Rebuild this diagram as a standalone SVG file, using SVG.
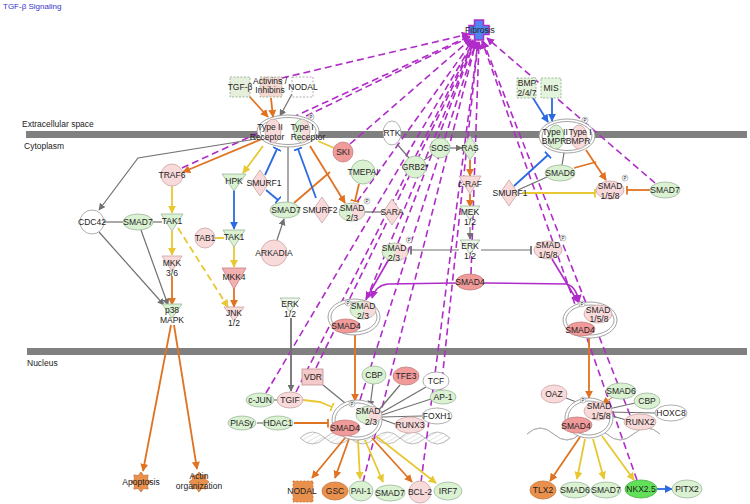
<svg xmlns="http://www.w3.org/2000/svg" width="750" height="504" viewBox="0 0 750 504">
<defs>
<style>
text{font-family:"Liberation Sans",Arial,sans-serif;font-size:8.5px;fill:#222;text-anchor:middle;dominant-baseline:central}
.ttl{fill:#3434c8;text-anchor:start;font-size:8px}
.lbl{text-anchor:start}
.pt{font-size:4.5px}
.g{fill:#daf1d2;stroke:#9cb79a;stroke-width:.8}
.p{fill:#f9dada;stroke:#c9a3a3;stroke-width:.8}
.s{fill:#f09a9a;stroke:#c47e7e;stroke-width:.8}
.w{fill:#fff;stroke:#9a9a9a;stroke-width:.8}
.o{fill:#e9904d;stroke:#c8743a;stroke-width:.8}
.gp{fill:url(#gpg);stroke:#a8b0a0;stroke-width:.8}
.cx{fill:#fff;stroke:#999;stroke-width:.9}
.pc{fill:#fff;stroke:#999;stroke-width:.6}
.bar{fill:#808080}
.eg{stroke:#707070;stroke-width:1.2;fill:none}
.eo{stroke:#e07322;stroke-width:1.8;fill:none}
.ey{stroke:#e8c832;stroke-width:1.8;fill:none}
.eb{stroke:#2b6ae0;stroke-width:1.8;fill:none}
.ep{stroke:#b02cc8;stroke-width:1.6;fill:none}
.fd{stroke:#b02cc8;stroke-width:1.6;stroke-dasharray:7 4;fill:none}
.dna{fill:url(#hatch);stroke:#aaa;stroke-width:.8}
.gf{stroke:#8aa88a;stroke-width:.8;stroke-dasharray:2 1.5}
</style>
<linearGradient id="gpg" x1="0" x2="1" y1="0" y2="0"><stop offset="0.5" stop-color="#daf1d2"/><stop offset="0.5" stop-color="#f9dada"/></linearGradient>
<pattern id="hatch" width="4" height="4" patternUnits="userSpaceOnUse" patternTransform="rotate(60)"><rect width="4" height="4" fill="#fff"/><line x1="0" y1="0" x2="0" y2="4" stroke="#b0b0b0" stroke-width="0.7"/></pattern>
<marker id="ag" viewBox="0 0 10 10" refX="9" refY="5" markerWidth="7" markerHeight="7" orient="auto" markerUnits="userSpaceOnUse"><path d="M0,0L10,5L0,10z" fill="#707070"/></marker>
<marker id="ao" viewBox="0 0 10 10" refX="9" refY="5" markerWidth="8" markerHeight="8" orient="auto" markerUnits="userSpaceOnUse"><path d="M0,0L10,5L0,10z" fill="#e07322"/></marker>
<marker id="ay" viewBox="0 0 10 10" refX="9" refY="5" markerWidth="8" markerHeight="8" orient="auto" markerUnits="userSpaceOnUse"><path d="M0,0L10,5L0,10z" fill="#e8c832"/></marker>
<marker id="ab" viewBox="0 0 10 10" refX="9" refY="5" markerWidth="8" markerHeight="8" orient="auto" markerUnits="userSpaceOnUse"><path d="M0,0L10,5L0,10z" fill="#2b6ae0"/></marker>
<marker id="ap" viewBox="0 0 10 10" refX="9" refY="5" markerWidth="8" markerHeight="8" orient="auto" markerUnits="userSpaceOnUse"><path d="M0,0L10,5L0,10z" fill="#b02cc8"/></marker>
<marker id="tg" viewBox="0 0 2 10" refX="1" refY="5" markerWidth="2" markerHeight="9" orient="auto" markerUnits="userSpaceOnUse"><rect width="2" height="10" fill="#707070"/></marker>
<marker id="to" viewBox="0 0 2 10" refX="1" refY="5" markerWidth="2" markerHeight="9" orient="auto" markerUnits="userSpaceOnUse"><rect width="2" height="10" fill="#e07322"/></marker>
<marker id="ty" viewBox="0 0 2 10" refX="1" refY="5" markerWidth="2" markerHeight="9" orient="auto" markerUnits="userSpaceOnUse"><rect width="2" height="10" fill="#e8c832"/></marker>
<marker id="tb" viewBox="0 0 2 10" refX="1" refY="5" markerWidth="2" markerHeight="9" orient="auto" markerUnits="userSpaceOnUse"><rect width="2" height="10" fill="#2b6ae0"/></marker>
<path id="burst" d="M10,0L6.47,2.68L7.07,7.07L2.68,6.47L0,10L-2.68,6.47L-7.07,7.07L-6.47,2.68L-10,0L-6.47,-2.68L-7.07,-7.07L-2.68,-6.47L0,-10L2.68,-6.47L7.07,-7.07L6.47,-2.68Z" stroke-linejoin="round"/>
</defs>
<rect width="750" height="504" fill="#fff"/>

<g id="labels">
<text class="ttl" x="3" y="6">TGF-β Signaling</text>
<text class="lbl" x="22" y="124">Extracellular space</text>
<text class="lbl" x="24" y="146">Cytoplasm</text>
<text class="lbl" x="27" y="363">Nucleus</text>
</g>
<g id="membranes">
<rect class="bar" x="26" y="131" width="721" height="7"/>
<rect class="bar" x="27" y="348" width="720" height="7"/>
</g>
<g id="dna">
<path class="dna" d="M300,438Q312.5,426 325,438T350,438T375,438T400,438T425,438T450,438Q437.5,426 425,438T400,438T375,438T350,438T325,438T300,438Z"/>
<path class="dna" d="M527,434Q540.3,422 553.6,434T580.2,434T606.8,434T633.4,434T660,434Q646.7,422 633.4,434T606.8,434T580.2,434T553.6,434T527,434Z"/>
</g>

<g id="connectors">
<g id="fibrosis-links">
<path class="fd" marker-end="url(#ap)" d="M182,168L470,36"/>
<path class="fd" marker-end="url(#ap)" d="M282,78L469,34"/>
<path class="fd" marker-end="url(#ap)" d="M306,116L470,37"/>
<path class="fd" marker-end="url(#ap)" d="M350,144L471,39"/>
<path class="fd" marker-end="url(#ap)" d="M357,202L473,40"/>
<path class="fd" marker-end="url(#ap)" d="M398,243L475,41"/>
<path class="fd" marker-end="url(#ap)" d="M366,300L475,41"/>
<path class="fd" marker-end="url(#ap)" d="M471,274L479,42"/>
<path class="fd" marker-end="url(#ap)" d="M266,393L474,41"/>
<path class="fd" marker-end="url(#ap)" d="M296,392L474,41"/>
<path class="fd" marker-end="url(#ap)" d="M316,368L475,41"/>
<path class="fd" marker-end="url(#ap)" d="M360,400L476,42"/>
<path class="fd" marker-end="url(#ap)" d="M363,482L476,42"/>
<path class="fd" marker-end="url(#ap)" d="M421,482L478,42"/>
<path class="fd" marker-end="url(#ap)" d="M441,390L478,42"/>
<path class="fd" marker-end="url(#ap)" d="M630,415L483,41"/>
<path class="fd" marker-end="url(#ap)" d="M637,480L482,41"/>
<path class="fd" marker-end="url(#ap)" d="M655,183L487,38"/>
</g>
<g id="translocation">
<path class="ep" marker-end="url(#ap)" d="M456,283L388,284Q376,285 372,298"/>
<path class="ep" marker-end="url(#ap)" d="M389,259L366,299"/>
<path class="ep" marker-end="url(#ap)" d="M484,283L566,284Q576,286 579,302"/>
<path class="ep" marker-end="url(#ap)" d="M552,259L578,302"/>
</g>
<g id="gray-links">
<path class="eg" marker-end="url(#ag)" d="M292,94L280,116"/>
<path class="eg" marker-end="url(#ag)" d="M256,139L138,158L99,210"/>
<path class="eg" d="M397,144L409,158"/>
<path class="eg" d="M424,160L432,155"/>
<path class="eg" marker-end="url(#ag)" d="M450,148L462,148"/>
<path class="eg" marker-end="url(#ag)" d="M470,227L470,239"/>
<path class="eg" marker-end="url(#tg)" d="M481,250L531,250"/>
<path class="eg" marker-end="url(#tg)" d="M459,250L411,250"/>
<path class="eg" d="M365,212L383,212"/>
<path class="eg" d="M288,147L288,202"/>
<path class="eg" marker-end="url(#ag)" d="M277,240L284,219"/>
<path class="eg" d="M104,222L123,222"/>
<path class="eg" d="M153,222L162,222"/>
<path class="eg" marker-end="url(#ag)" d="M99,232L164,305"/>
<path class="eg" marker-end="url(#ag)" d="M141,230L168,305"/>
<path class="eg" style="stroke-width:1.8" marker-end="url(#ag)" d="M291,318L291,391"/>
<path class="eg" d="M323,385L350,407"/>
<path class="eg" marker-end="url(#ag)" d="M373,384L370,407"/>
<path class="eg" d="M400,385L378,411"/>
<path class="eg" d="M426,387L381,413"/>
<path class="eg" d="M431,399L382,415"/>
<path class="eg" d="M422,416L382,417"/>
<path class="eg" d="M395,424L381,419"/>
<path class="eg" d="M257,423L263,423"/>
<path class="eg" d="M274,400L277,400"/>
<path class="eg" d="M564,153L562,165"/>
<path class="eg" d="M518,190L547,177"/>
<path class="eg" d="M566,398L584,405"/>
<path class="eg" d="M635,403L604,410"/>
<path class="eg" d="M655,413L607,412"/>
<path class="eg" d="M626,420L606,414"/>
</g>
<g id="orange-links">
<path class="eo" marker-end="url(#ao)" d="M249,96L268,117"/>
<path class="eo" marker-end="url(#ao)" d="M271,98L273,117"/>
<path class="eo" marker-end="url(#ao)" d="M262,139L183,172"/>
<path class="eo" marker-end="url(#ao)" d="M310,146L345,203"/>
<path class="eo" d="M294,203L330,172"/>
<path class="eo" marker-end="url(#to)" d="M359,184L355,201"/>
<path class="eo" marker-end="url(#ao)" d="M470,160L470,176"/>
<path class="eo" marker-end="url(#ao)" d="M470,194L470,207"/>
<path class="eo" marker-end="url(#ao)" d="M172,276L172,305"/>
<path class="eo" marker-end="url(#ao)" d="M234,288L234,307"/>
<path class="eo" marker-end="url(#ao)" d="M171,325L143,471"/>
<path class="eo" marker-end="url(#ao)" d="M174,325L197,469"/>
<path class="eo" marker-end="url(#ao)" d="M355,335L355,401"/>
<path class="eo" marker-end="url(#to)" d="M294,423L328,423"/>
<path class="eo" marker-end="url(#ao)" d="M345,438L312,478"/>
<path class="eo" marker-end="url(#ao)" d="M349,439L335,478"/>
<path class="eo" marker-end="url(#ao)" d="M372,438L412,482"/>
<path class="eo" marker-end="url(#ao)" d="M586,150L606,180"/>
<path class="eo" d="M574,168L596,162"/>
<path class="eo" marker-end="url(#to)" d="M650,190L627,190"/>
<path class="eo" marker-end="url(#ao)" d="M589,338L589,398"/>
<path class="eo" style="stroke-width:1" marker-end="url(#ao)" d="M613,397L602,404"/>
<path class="eo" marker-end="url(#ao)" d="M580,437L550,481"/>
</g>
<g id="yellow-links">
<path class="ey" marker-end="url(#ay)" d="M263,146L243,173"/>
<path class="ey" d="M318,141L334,148"/>
<path class="ey" marker-end="url(#ay)" d="M172,186L172,213"/>
<path class="ey" marker-end="url(#ay)" d="M172,231L172,255"/>
<path class="ey" style="stroke-dasharray:7 4" marker-end="url(#ay)" d="M178,228L228,307"/>
<path class="ey" d="M215,238L224,238"/>
<path class="ey" marker-end="url(#ay)" d="M234,246L234,267"/>
<path class="ey" marker-end="url(#ty)" d="M303,400L320,402L332,407"/>
<path class="ey" marker-end="url(#ay)" d="M358,440L360,479"/>
<path class="ey" marker-end="url(#ay)" d="M365,440L383,482"/>
<path class="ey" marker-end="url(#ay)" d="M376,436L436,483"/>
<path class="ey" marker-end="url(#ty)" d="M522,193L595,193"/>
<path class="ey" marker-end="url(#ay)" d="M585,439L577,479"/>
<path class="ey" marker-end="url(#ay)" d="M593,439L604,479"/>
<path class="ey" marker-end="url(#ay)" d="M602,436L634,480"/>
</g>
<g id="blue-links">
<path class="eb" marker-end="url(#tb)" d="M265,175L277,149"/>
<path class="eb" marker-end="url(#tb)" d="M266,190L278,200"/>
<path class="eb" marker-end="url(#tb)" d="M316,198L298,149"/>
<path class="eb" marker-end="url(#ab)" d="M234,190L234,229"/>
<path class="eb" marker-end="url(#ab)" d="M533,98L548,122"/>
<path class="eb" marker-end="url(#ab)" d="M552,98L552,121"/>
<path class="eb" marker-end="url(#tb)" d="M514,186L548,155"/>
<path class="eb" marker-end="url(#ab)" d="M657,489L672,489"/>
</g>
</g>

<g id="fibrosis"><path d="M474.5,20H483.5V25.5H489V34.5H483.5V40H474.5V34.5H469V25.5H474.5Z" fill="#4f86f0" stroke="#b02cc8" stroke-width="1.5"/><text x="480" y="30">Fibrosis</text></g>

<g id="tgfb"><rect x="230" y="77" width="20" height="20" fill="#e6efdc" class="gf"/><text x="240" y="87">TGF-β</text></g>
<g id="activins"><rect x="260" y="77" width="22" height="20" fill="#f3d8d0" class="gf"/><text x="270" y="81">Activins /</text><text x="270" y="90">Inhibins</text></g>
<g id="nodal-ec"><rect x="292" y="77" width="21" height="20" fill="#fff" class="gf" style="stroke:#999"/><text x="303" y="87">NODAL</text></g>
<g id="receptor"><ellipse class="cx" cx="288" cy="131" rx="31" ry="16"/><ellipse class="cx" cx="288" cy="131" rx="28" ry="13.5"/><ellipse class="p" cx="273" cy="131" rx="8" ry="12"/><ellipse class="gp" cx="302" cy="131" rx="8" ry="12"/><circle class="pc" cx="311" cy="117" r="3"/><text class="pt" x="311" y="117">P</text><text x="270" y="127">Type II</text><text x="267" y="137">Receptor</text><text x="302" y="127">Type I</text><text x="308" y="137">Receptor</text></g>
<g id="bmp"><rect x="517" y="78" width="19" height="20" fill="#e3f2d8" class="gf"/><text x="527" y="83">BMP</text><text x="527" y="93">2/4/7</text></g>
<g id="mis"><rect x="541" y="78" width="20" height="20" fill="#e3f5dc" class="gf"/><text x="551" y="88">MIS</text></g>
<g id="bmpr"><ellipse class="cx" cx="567" cy="136" rx="28" ry="17"/><ellipse class="cx" cx="567" cy="136" rx="25" ry="14.5"/><ellipse class="g" cx="556" cy="137" rx="8" ry="12"/><ellipse class="p" cx="579" cy="137" rx="8" ry="12"/><circle class="pc" cx="585" cy="120" r="3"/><text class="pt" x="585" y="120">P</text><text x="555" y="132">Type II</text><text x="554" y="141">BMPR</text><text x="580" y="132">Type I</text><text x="578" y="141">BMPR</text></g>
<g id="rtk"><ellipse class="w" cx="392" cy="133" rx="9" ry="12"/><text x="392" y="133">RTK</text></g>
<g id="ski"><circle class="s" cx="343" cy="152" r="10"/><text x="343" y="152">SKI</text></g>
<g id="sos"><circle class="g" cx="440" cy="148" r="10"/><text x="440" y="148">SOS</text></g>
<g id="ras"><path class="g" d="M470,136L478,148L470,160L462,148Z"/><text x="470" y="148">RAS</text></g>
<g id="grb2"><circle class="g" cx="415" cy="167" r="11"/><text x="415" y="167">GRB2*</text></g>
<g id="tmepai"><circle class="g" cx="363" cy="172" r="12"/><text x="363" y="172">TMEPAI</text></g>
<g id="traf6"><circle class="p" cx="172" cy="175" r="11"/><text x="172" y="175">TRAF6</text></g>
<g id="hpk"><path class="g" d="M222,174H246L234,191Z"/><text x="234" y="181">HPK</text></g>
<g id="smurf1-l"><path class="p" d="M260,170L269,183L260,196L251,183Z"/><text x="264" y="183">SMURF1</text></g>
<g id="cdc42"><circle class="w" cx="92" cy="222" r="12"/><text x="92" y="222">CDC42</text></g>
<g id="smad7-l"><ellipse class="g" cx="138" cy="222" rx="15" ry="8"/><text x="138" y="222">SMAD7</text></g>
<g id="tak1-l"><path class="g" d="M161,214H183L172,231Z"/><text x="172" y="221">TAK1</text></g>
<g id="tab1"><circle class="p" cx="205" cy="238" r="10"/><text x="205" y="238">TAB1</text></g>
<g id="tak1-r"><path class="g" d="M223,230H245L234,247Z"/><text x="234" y="237">TAK1</text></g>
<g id="mkk36"><path class="p" d="M162,256H182L172,271Z"/><text x="172" y="263">MKK</text><text x="172" y="273">3/6</text></g>
<g id="mkk4"><path class="s" style="fill:#f3b0b0" d="M222,268H246L234,289Z"/><text x="234" y="277">MKK4</text></g>
<g id="p38"><path class="g" d="M162,304H182L172,318Z"/><text x="172" y="310">p38</text><text x="172" y="320">MAPK</text></g>
<g id="jnk"><path class="p" d="M224,307H244L234,321Z"/><text x="234" y="313">JNK</text><text x="234" y="323">1/2</text></g>
<g id="smad7-m"><ellipse class="g" cx="285" cy="210" rx="15" ry="8"/><text x="286" y="210">SMAD7</text></g>
<g id="smurf2"><path class="p" d="M322,197L331,210L322,223L313,210Z"/><text x="320" y="210">SMURF2</text></g>
<g id="smad23-c"><ellipse class="gp" cx="352" cy="212" rx="13" ry="9"/><circle class="pc" cx="367" cy="201" r="3"/><text class="pt" x="367" y="201">P</text><text x="352" y="208">SMAD</text><text x="352" y="218">2/3</text></g>
<g id="sara"><path class="p" d="M392,199L401,212L392,225L383,212Z"/><text x="392" y="212">SARA</text></g>
<g id="arkadia"><circle class="p" cx="274" cy="253" r="13"/><text x="274" y="253">ARKADIA</text></g>
<g id="erk-l"><path class="g" style="fill:#eef6ea" d="M280,298H300L290,312Z"/><text x="290" y="304">ERK</text><text x="290" y="314">1/2</text></g>
<g id="craf"><path class="p" d="M459,176H481L470,194Z"/><text x="470" y="184">c-RAF</text></g>
<g id="mek"><path class="g" style="fill:#eef6ea" d="M460,206H480L470,220Z"/><text x="470" y="212">MEK</text><text x="470" y="222">1/2</text></g>
<g id="erk-c"><path class="g" style="fill:#eef6ea" d="M460,240H480L470,254Z"/><text x="470" y="246">ERK</text><text x="470" y="256">1/2</text></g>
<g id="smad23-m"><ellipse class="gp" cx="395" cy="252" rx="13" ry="9"/><circle class="pc" cx="409" cy="240" r="3"/><text class="pt" x="409" y="240">P</text><text x="394" y="248">SMAD</text><text x="394" y="258">2/3</text></g>
<g id="smad158-m"><ellipse class="p" cx="548" cy="250" rx="14" ry="9"/><circle class="pc" cx="563" cy="238" r="3"/><text class="pt" x="563" y="238">P</text><text x="548" y="245">SMAD</text><text x="548" y="255">1/5/8</text></g>
<g id="smad4-c"><ellipse class="s" cx="470" cy="282" rx="14" ry="8"/><text x="470" y="282">SMAD4</text></g>
<g id="complex-l"><ellipse class="cx" cx="354" cy="317" rx="26" ry="18"/><ellipse class="cx" cx="354" cy="317" rx="23" ry="15"/><ellipse class="gp" cx="363" cy="310" rx="13" ry="9"/><circle class="pc" cx="348" cy="303" r="3"/><text class="pt" x="348" y="303">P</text><text x="363" y="306">SMAD</text><text x="363" y="316">2/3</text><ellipse class="s" cx="346" cy="326" rx="14" ry="7"/><text x="346" y="326">SMAD4</text></g>
<g id="complex-r"><ellipse class="cx" cx="590" cy="320" rx="27" ry="18"/><ellipse class="cx" cx="590" cy="320" rx="24" ry="15"/><ellipse class="p" cx="598" cy="314" rx="14" ry="9"/><circle class="pc" cx="582" cy="304" r="3"/><text class="pt" x="582" y="304">P</text><text x="598" y="310">SMAD</text><text x="599" y="319">1/5/8</text><ellipse class="s" cx="581" cy="329" rx="14" ry="7"/><text x="580" y="329.5">SMAD4</text></g>
<g id="smurf1-r"><path class="p" d="M509,180L518,193L509,206L500,193Z"/><text x="510" y="193">SMURF1</text></g>
<g id="smad6-c"><ellipse class="g" cx="560" cy="173" rx="15" ry="8"/><text x="560" y="173">SMAD6</text></g>
<g id="smad158-r"><ellipse class="p" cx="610" cy="190" rx="14" ry="9"/><circle class="pc" cx="625" cy="178" r="3"/><text class="pt" x="625" y="178">P</text><text x="610" y="186">SMAD</text><text x="610" y="196">1/5/8</text></g>
<g id="smad7-r"><ellipse class="g" cx="665" cy="190" rx="15" ry="8"/><text x="665" y="190">SMAD7</text></g>

<g id="apoptosis"><use href="#burst" x="141" y="482" class="o"/><text x="141" y="482">Apoptosis</text></g>
<g id="actin"><use href="#burst" x="199" y="482" class="o"/><text x="199" y="476">Actin</text><text x="199" y="486">organization</text></g>
<g id="vdr"><rect x="302" y="369" width="21" height="16" fill="#f6caca" stroke="#c09090" stroke-width=".8"/><text x="313" y="377">VDR</text></g>
<g id="cjun"><ellipse class="g" cx="260" cy="400" rx="14" ry="7"/><text x="260" y="400">c-JUN</text></g>
<g id="tgif"><ellipse class="p" cx="290" cy="400" rx="13" ry="8"/><text x="290" y="400">TGIF</text></g>
<g id="piasy"><ellipse class="g" cx="242" cy="423" rx="14" ry="7"/><text x="242" y="423">PIASy</text></g>
<g id="hdac1"><ellipse class="g" cx="278" cy="423" rx="15" ry="7"/><text x="278" y="423">HDAC1</text></g>
<g id="cbp-l"><ellipse class="g" cx="374" cy="375" rx="12" ry="9"/><text x="374" y="375">CBP</text></g>
<g id="tfe3"><ellipse class="s" cx="406" cy="376" rx="13" ry="9"/><text x="406" y="376">TFE3</text></g>
<g id="tcf"><ellipse class="w" cx="436" cy="381" rx="13" ry="9"/><text x="436" y="381">TCF</text></g>
<g id="ap1"><ellipse class="g" cx="443" cy="397" rx="13" ry="7"/><text x="443" y="397">AP-1</text></g>
<g id="foxh1"><ellipse class="w" cx="437" cy="416" rx="15" ry="8"/><text x="437" y="416">FOXH1</text></g>
<g id="runx3"><ellipse class="p" cx="410" cy="425" rx="15" ry="8"/><text x="410" y="425">RUNX3</text></g>
<g id="complex-nl"><ellipse class="cx" cx="357" cy="420" rx="25" ry="20"/><ellipse class="cx" cx="357" cy="420" rx="22" ry="17"/><ellipse class="gp" cx="369" cy="415" rx="13" ry="9"/><circle class="pc" cx="352" cy="404" r="3"/><text class="pt" x="352" y="404">P</text><text x="368" y="411">SMAD</text><text x="371" y="422">2/3</text><ellipse class="s" cx="345" cy="428" rx="15" ry="8"/><text x="345" y="428">SMAD4</text></g>
<g id="nodal-n"><rect x="293" y="481" width="20" height="21" fill="#e9904d" stroke="#c8743a" stroke-width=".8" stroke-dasharray="2 1.5"/><text x="302" y="491">NODAL</text></g>
<g id="gsc"><ellipse class="o" cx="335" cy="491" rx="13" ry="9"/><text x="335" y="491">GSC</text></g>
<g id="pai1"><ellipse class="g" cx="361" cy="491" rx="12" ry="10"/><text x="361" y="491">PAI-1</text></g>
<g id="smad7-n"><ellipse class="g" cx="390" cy="493" rx="15" ry="8"/><text x="390" y="493">SMAD7</text></g>
<g id="bcl2"><circle class="p" cx="420" cy="492" r="11"/><text x="420" y="492">BCL-2</text></g>
<g id="irf7"><ellipse class="g" cx="448" cy="491" rx="14" ry="9"/><text x="448" y="491">IRF7</text></g>
<g id="oaz"><ellipse class="p" cx="554" cy="394" rx="13" ry="9"/><text x="554" y="394">OAZ</text></g>
<g id="smad6-n"><ellipse class="g" cx="621" cy="391" rx="15" ry="8"/><text x="621" y="391">SMAD6</text></g>
<g id="cbp-r"><ellipse class="g" cx="647" cy="401" rx="13" ry="8"/><text x="647" y="401">CBP</text></g>
<g id="hoxc8"><ellipse class="w" cx="671" cy="413" rx="16" ry="8"/><text x="671" y="413">HOXC8</text></g>
<g id="runx2"><ellipse class="p" cx="640" cy="422" rx="16" ry="8"/><text x="640" y="422">RUNX2</text></g>
<g id="complex-nr"><ellipse class="cx" cx="589" cy="418" rx="24" ry="20"/><ellipse class="cx" cx="589" cy="418" rx="21" ry="17"/><ellipse class="p" cx="598" cy="411" rx="14" ry="9"/><circle class="pc" cx="583" cy="400" r="3"/><text class="pt" x="583" y="400">P</text><text x="599" y="406">SMAD</text><text x="601" y="416">1/5/8</text><ellipse class="s" cx="577" cy="425" rx="15" ry="8"/><text x="576" y="426">SMAD4</text></g>
<g id="tlx2"><ellipse class="o" cx="543" cy="490" rx="13" ry="9"/><text x="543" y="490">TLX2</text></g>
<g id="smad6-o"><ellipse class="g" cx="575" cy="490" rx="15" ry="8"/><text x="575" y="490">SMAD6</text></g>
<g id="smad7-o"><ellipse class="g" cx="606" cy="490" rx="15" ry="8"/><text x="606" y="490">SMAD7</text></g>
<g id="nkx25"><ellipse cx="641" cy="489" rx="16" ry="9" fill="#62e05a" stroke="#48b040" stroke-width=".8"/><text x="641" y="489">NKX2.5</text></g>
<g id="pitx2"><ellipse class="g" cx="687" cy="489" rx="15" ry="9"/><text x="687" y="489">PITX2</text></g>
</svg>
